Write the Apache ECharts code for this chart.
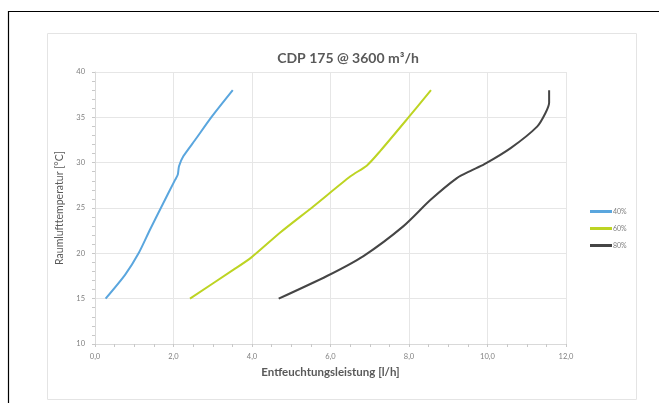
<!DOCTYPE html>
<html><head><meta charset="utf-8">
<script src="https://cdn.jsdelivr.net/npm/echarts@6/dist/echarts.min.js"></script>
<style>html,body{margin:0;padding:0;background:#fff}#c{width:659px;height:403px}</style>
</head><body><div id="c"></div>
<script>
const seriesNames = ['40%', '60%', '80%'];
const s40 = [[0.27,15],[0.77,17.65],[1.11,20],[1.40,22.6],[1.70,25.2],[2.04,28.1],[2.11,28.7],[2.14,29.6],[2.25,30.7],[2.55,32.5],[2.98,35.1],[3.51,38.0]];
const s60 = [[2.42,15],[3.53,18.2],[3.97,19.5],[4.72,22.3],[5.57,25.2],[6.51,28.5],[6.93,29.7],[7.27,31.3],[7.95,34.8],[8.56,38.0]];
const s80 = [[4.68,15],[5.91,17.5],[6.84,19.7],[7.86,23.0],[8.55,25.9],[9.22,28.3],[9.57,29.1],[9.91,29.8],[10.59,31.6],[11.27,34.0],[11.48,35.5],[11.57,36.6],[11.57,38.0]];
const colors = ['#5aa6de', '#bdd423', '#454545'];
const font = 'Lato, "Open Sans", sans-serif';
const chart = echarts.init(document.getElementById('c'), null, {renderer: 'canvas'});
const mk = (name, data, i) => ({
  name, type: 'line', data, showSymbol: false, smooth: 0.25,
  lineStyle: {color: colors[i], width: 2}, itemStyle: {color: colors[i]}
});
chart.setOption({
  animation: false,
  graphic: [
    {type: 'rect', shape: {x: 8.5, y: 11.5, width: 700, height: 450}, style: {fill: 'none', stroke: '#000', lineWidth: 1.2}, z: -10},
    {type: 'rect', shape: {x: 47.5, y: 33.5, width: 589, height: 366}, style: {fill: 'none', stroke: '#e4e4e4', lineWidth: 1}, z: -9}
  ],
  title: {text: 'CDP 175 @ 3600 m³/h', left: 343, top: 46, textAlign: 'center',
    textStyle: {fontFamily: font, fontSize: 14, fontWeight: 'bold', color: '#595959'}},
  legend: {orient: 'vertical', left: 585, top: 203, itemWidth: 22, itemHeight: 3, itemGap: 10,
    icon: 'rect', data: seriesNames,
    textStyle: {fontFamily: font, fontSize: 7, color: '#7f7f7f', padding: [0, 0, 0, -4]}},
  grid: {left: 95, right: 93, top: 72, bottom: 59, containLabel: false},
  xAxis: {type: 'value', min: 0, max: 12, interval: 2,
    name: 'Entfeuchtungsleistung [l/h]', nameLocation: 'middle', nameGap: 21,
    nameTextStyle: {fontFamily: font, fontSize: 11.5, fontWeight: 'bold', color: '#595959'},
    axisLine: {lineStyle: {color: '#d9d9d9'}},
    axisTick: {show: true, length: 3, lineStyle: {color: '#c8c8c8'}},
    minorTick: {show: true, splitNumber: 4, length: 3, lineStyle: {color: '#c8c8c8'}},
    axisLabel: {fontFamily: font, fontSize: 7.5, color: '#7f7f7f', margin: 9,
      formatter: v => v.toFixed(1).replace('.', ',')},
    splitLine: {lineStyle: {color: '#e6e6e6'}}},
  yAxis: {type: 'value', min: 10, max: 40, interval: 5,
    name: 'Raumlufttemperatur [°C]', nameLocation: 'middle', nameGap: 18,
    nameTextStyle: {fontFamily: font, fontSize: 10.5, color: '#595959'},
    axisLine: {show: true, lineStyle: {color: '#d9d9d9'}},
    axisTick: {show: true, length: 3, lineStyle: {color: '#c8c8c8'}},
    minorTick: {show: true, splitNumber: 5, length: 3, lineStyle: {color: '#c8c8c8'}},
    axisLabel: {fontFamily: font, fontSize: 7.5, color: '#7f7f7f', margin: 10},
    splitLine: {lineStyle: {color: '#e6e6e6'}}},
  series: [mk(seriesNames[0], s40, 0), mk(seriesNames[1], s60, 1), mk(seriesNames[2], s80, 2)]
});
</script></body></html>
